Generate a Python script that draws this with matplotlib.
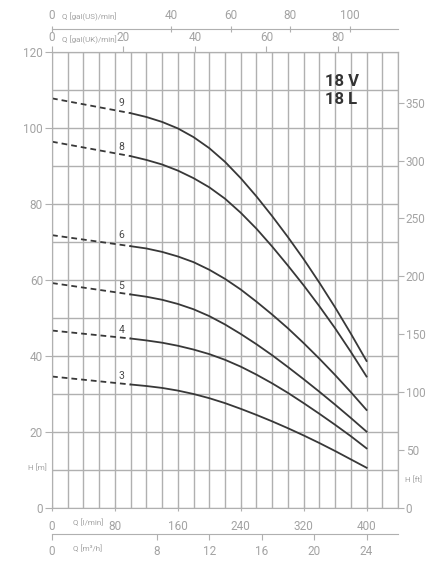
import numpy as np
import matplotlib
matplotlib.use("Agg")
import matplotlib.pyplot as plt

# flow in l/min, head in m
q_dash = [0, 100]
q_solid = [100, 120, 140, 160, 180, 200, 220, 240, 260, 280, 300, 320, 340, 360, 380, 400]

stages = [9, 8, 6, 5, 4, 3]

h9_dash = [107.8, 103.9]
h8_dash = [96.4, 92.6]
h6_dash = [71.8, 68.9]
h5_dash = [59.2, 56.2]
h4_dash = [46.7, 44.6]
h3_dash = [34.6, 32.5]

h9 = [103.9, 102.9, 101.6, 99.9, 97.6, 94.7, 91.1, 86.8, 82.0, 76.8, 71.3, 65.5, 59.3, 52.8, 45.9, 38.7]
h8 = [92.6, 91.6, 90.4, 88.8, 86.8, 84.4, 81.4, 77.7, 73.5, 68.8, 63.8, 58.6, 53.1, 47.3, 41.1, 34.6]
h6 = [68.9, 68.3, 67.4, 66.2, 64.7, 62.7, 60.3, 57.5, 54.3, 50.9, 47.3, 43.4, 39.3, 35.0, 30.5, 25.8]
h5 = [56.2, 55.6, 54.8, 53.7, 52.3, 50.5, 48.3, 45.8, 43.1, 40.2, 37.1, 33.9, 30.6, 27.2, 23.7, 20.1]
h4 = [44.6, 44.1, 43.5, 42.7, 41.7, 40.5, 39.0, 37.2, 35.1, 32.8, 30.3, 27.6, 24.8, 21.9, 18.9, 15.7]
h3 = [32.5, 32.1, 31.6, 30.9, 30.0, 28.9, 27.6, 26.1, 24.5, 22.8, 21.0, 19.1, 17.1, 15.0, 12.8, 10.6]

dash_heads = [h9_dash, h8_dash, h6_dash, h5_dash, h4_dash, h3_dash]
solid_heads = [h9, h8, h6, h5, h4, h3]
label_heads = [106.5, 94.9, 71.8, 58.4, 46.8, 34.7]

lmin_ticks = [0, 80, 160, 240, 320, 400]
m_ticks = [0, 20, 40, 60, 80, 100, 120]
ft_ticks = [0, 50, 100, 150, 200, 250, 300, 350]
uk_ticks = [0, 20, 40, 60, 80]
us_ticks = [0, 40, 60, 80, 100]
m3h_ticks = [0, 8, 12, 16, 20, 24]

FT = 3.28084
US = 3.78541
UK = 4.54609
M3H = 1000 / 60

grid_col = "#b0b0b0"
lab_col = "#a3a3a3"
curve_col = "#383838"
num_font = ["Roboto", "DejaVu Sans"]

fig = plt.figure(figsize=(4.48, 5.68), dpi=100)
ax = fig.add_axes([52 / 448, 60 / 568, 346 / 448, 456 / 568])
ax.set_xlim(0, 440)
ax.set_ylim(0, 120)

ax.set_xticks(np.arange(0, 441, 20), minor=True)
ax.set_yticks(np.arange(0, 121, 10), minor=True)
ax.set_xticks(lmin_ticks)
ax.set_yticks(m_ticks)
ax.grid(which="both", color=grid_col, lw=1.0)
ax.set_axisbelow(True)
for s in ax.spines.values():
    s.set_color(grid_col)
ax.tick_params(which="minor", length=0)
ax.tick_params(axis="x", which="major", direction="inout", length=5, pad=6,
               color=grid_col, labelcolor=lab_col, labelsize=8.5)
ax.tick_params(axis="y", which="major", direction="out", length=5, pad=1.5,
               color=grid_col, labelcolor=lab_col, labelsize=8.5)
for t in ax.get_xticklabels() + ax.get_yticklabels():
    t.set_family(num_font)

# curves
for st, hd, hs, hl in zip(stages, dash_heads, solid_heads, label_heads):
    ax.plot(q_dash, hd, color=curve_col, lw=1.3, dashes=(3.2, 2.2))
    ax.plot(q_solid, hs, color=curve_col, lw=1.3)
    ax.text(88, hl, str(st), color="#4a4a4a", fontsize=7.5, ha="center",
            va="center", family=num_font)

ax.text(347, 112.2, "18 V", color="#333333", fontsize=12, fontweight="bold",
        va="center", family=num_font)
ax.text(347, 107.5, "18 L", color="#333333", fontsize=12, fontweight="bold",
        va="center", family=num_font)


def style_sec(sec, axis):
    for s in sec.spines.values():
        s.set_color(grid_col)
    labels = sec.get_xticklabels() if axis == "x" else sec.get_yticklabels()
    for t in labels:
        t.set_family(num_font)


# right axis in ft
ax_ft = ax.secondary_yaxis("right", functions=(lambda m: m * FT, lambda f: f / FT))
ax_ft.set_yticks(ft_ticks)
ax_ft.tick_params(direction="out", length=4, pad=1.5, color=grid_col,
                  labelcolor=lab_col, labelsize=8.5)
style_sec(ax_ft, "y")

# top axes in gallons
ax_uk = ax.secondary_xaxis("top", functions=(lambda q: q / UK, lambda g: g * UK))
ax_uk.set_xticks(uk_ticks)
ax_uk.tick_params(direction="out", length=4, pad=2, color=grid_col,
                  labelcolor=lab_col, labelsize=8.5)
style_sec(ax_uk, "x")

ax_us = ax.secondary_xaxis(1 + 23 / 456, functions=(lambda q: q / US, lambda g: g * US))
ax_us.set_xticks(us_ticks)
ax_us.tick_params(direction="inout", length=4, pad=3, color=grid_col,
                  labelcolor=lab_col, labelsize=8.5)
style_sec(ax_us, "x")

# bottom axis in m3/h
ax_m3 = ax.secondary_xaxis(-26 / 456, functions=(lambda q: q / M3H, lambda m: m * M3H))
ax_m3.set_xticks(m3h_ticks)
ax_m3.tick_params(direction="out", length=4, pad=4, color=grid_col,
                  labelcolor=lab_col, labelsize=8.5)
style_sec(ax_m3, "x")

# unit labels
unit_kw = dict(color=lab_col, fontsize=5.8, family=num_font, va="center")
fig.text(62 / 448, 1 - 17 / 568, "Q [gal(US)/min]", ha="left", **unit_kw)
fig.text(62 / 448, 1 - 40 / 568, "Q [gal(UK)/min]", ha="left", **unit_kw)
fig.text(73 / 448, 1 - 522 / 568, "Q [l/min]", ha="left", **unit_kw)
fig.text(73 / 448, 1 - 548 / 568, "Q [m\u00b3/h]", ha="left", **unit_kw)
fig.text(47 / 448, 1 - 467 / 568, "H [m]", ha="right", **unit_kw)
fig.text(405 / 448, 1 - 479 / 568, "H [ft]", ha="left", **unit_kw)

fig.savefig("out.png", dpi=100, facecolor="white")
